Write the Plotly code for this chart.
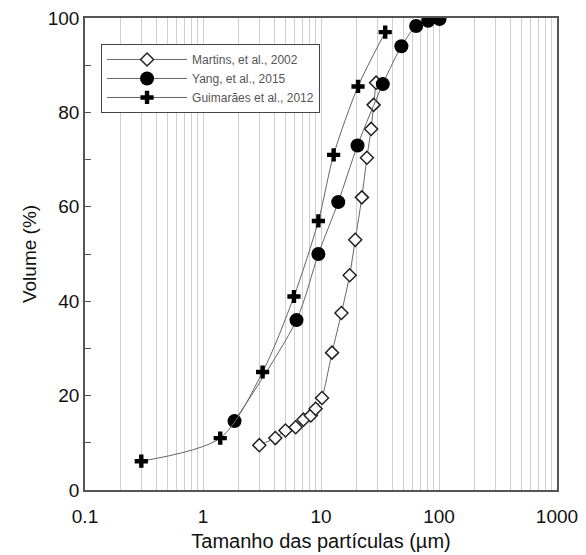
import plotly.graph_objects as go

# Martins, et al., 2002
martins_x = [3.0, 4.1, 5.0, 6.1, 7.1, 8.2, 9.0, 10.2, 12.4, 14.9, 17.5, 19.5, 22.2, 24.5, 26.6, 27.9, 29.3]
martins_y = [9.5, 11.0, 12.6, 13.3, 14.9, 15.8, 17.2, 19.5, 29.1, 37.5, 45.5, 53.0, 62.0, 70.4, 76.5, 81.6, 86.3]
# Yang, et al., 2015
yang_x = [1.85, 6.2, 9.5, 14.0, 20.4, 33.4, 48.0, 64.0, 81.0, 101.0]
yang_y = [14.6, 36.0, 50.0, 61.0, 73.0, 86.0, 94.0, 98.3, 99.4, 99.8]
# Guimarães et al., 2012
guim_x = [0.30, 1.4, 3.2, 5.9, 9.5, 12.8, 20.6, 35.0]
guim_y = [6.1, 11.0, 25.0, 41.0, 57.0, 71.0, 85.5, 97.0]

x_tickvals = [0.1, 1, 10, 100, 1000]
x_ticktext = ["0.1", "1", "10", "100", "1000"]

line_col = "#666666"
fig = go.Figure()
fig.add_trace(go.Scatter(
    x=martins_x, y=martins_y, name="Martins, et al., 2002", mode="lines+markers",
    line=dict(color=line_col, width=1, shape="spline", smoothing=0.5),
    marker=dict(symbol="diamond", size=10, color="white", line=dict(color="#222222", width=1.5))))
fig.add_trace(go.Scatter(
    x=yang_x, y=yang_y, name="Yang, et al., 2015", mode="lines+markers",
    line=dict(color=line_col, width=1, shape="spline", smoothing=0.8),
    marker=dict(symbol="circle", size=14, color="black")))
fig.add_trace(go.Scatter(
    x=guim_x, y=guim_y, name="Guimarães et al., 2012", mode="lines+markers",
    line=dict(color=line_col, width=1, shape="spline", smoothing=0.8),
    marker=dict(symbol="cross", size=11, color="black", line=dict(width=0))))

font = "Liberation Sans, Arial, sans-serif"
fig.update_layout(
    width=586, height=555,
    margin=dict(l=85, r=29, t=18, b=65),
    paper_bgcolor="white", plot_bgcolor="white",
    font=dict(family=font, color="#111111", size=19),
    legend=dict(x=0.034, y=0.945, xanchor="left", yanchor="top",
                bordercolor="#444444", borderwidth=1, bgcolor="white",
                font=dict(size=12, color="#555555"), tracegroupgap=0,
                itemwidth=80, entrywidth=180),
    showlegend=True,
)
fig.update_xaxes(
    type="log", range=[-1, 3], automargin=False,
    tickvals=x_tickvals, ticktext=x_ticktext, ticks="",
    ticklabelstandoff=8,
    showgrid=True, gridcolor="#cfcfcf", gridwidth=1,
    minor=dict(dtick="D1", showgrid=True, gridcolor="#cfcfcf", gridwidth=1, ticks=""),
    showline=True, linecolor="#555555", linewidth=1.5, mirror=True,
    title=dict(text="Tamanho das partículas (µm)", font=dict(size=20), standoff=8),
    tickfont=dict(size=19), zeroline=False,
)
fig.update_yaxes(
    range=[0, 100], dtick=20, ticks="inside", ticklen=6, tickcolor="#555555",
    minor=dict(dtick=10, ticks="inside", ticklen=6, tickcolor="#555555", showgrid=False),
    showgrid=False, zeroline=False, automargin=False,
    showline=True, linecolor="#555555", linewidth=1.5, mirror=True,
    title=dict(text="Volume (%)", font=dict(size=19), standoff=6),
    tickfont=dict(size=19),
)
fig.write_html("out.html")
